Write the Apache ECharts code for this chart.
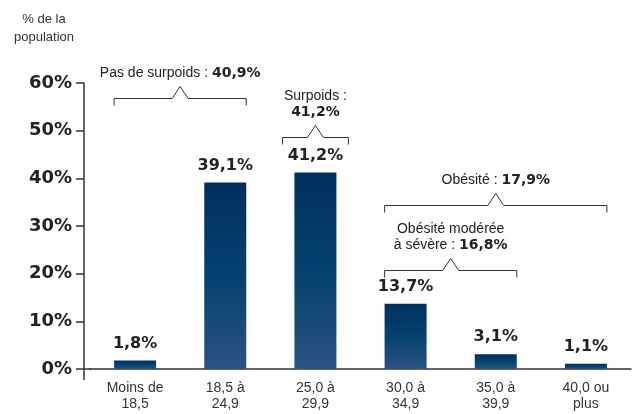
<!DOCTYPE html>
<html>
<head>
<meta charset="utf-8">
<script src="https://cdn.jsdelivr.net/npm/echarts@6/dist/echarts.min.js"></script>
<style>
  html, body { margin: 0; padding: 0; background: #fff; }
  #chart { width: 637px; height: 414px; }
</style>
</head>
<body>
<div id="chart"></div>
<script>
// categories (IMC) and share of population, in %
const categories = ['Moins de\n18,5', '18,5 à\n24,9', '25,0 à\n29,9', '30,0 à\n34,9', '35,0 à\n39,9', '40,0 ou\nplus'];
const shares = [1.8, 39.1, 41.2, 13.7, 3.1, 1.1];

// grouped brackets above the bars
const groupText = ['Pas de surpoids : ', 'Surpoids :\n', 'Obésité : ', 'Obésité modérée\nà sévère : '];
const groupValue = ['40,9%', '41,2%', '17,9%', '16,8%'];
const groupFrom = [0, 2, 3, 3];
const groupTo = [1, 2, 5, 4];
const groupLevel = [56.8, 48.6, 34.4, 20.8];

const numFont = '"DejaVu Sans", sans-serif';
const txtFont = '"Liberation Sans", Arial, sans-serif';
const fmt = v => v.toFixed(1).replace('.', ',') + '%';

window.addEventListener('load', function () {
    let chart = echarts.init(document.getElementById('chart'));
    const barW = 42;

    let option = {
        animation: false,
        grid: { left: 90, right: 6, top: 83, bottom: 45 },
        graphic: [],
        xAxis: {
            type: 'category',
            data: categories,
            axisLine: { lineStyle: { color: '#333', width: 1.5 } },
            axisTick: { show: false },
            axisLabel: {
                interval: 0, margin: 11, color: '#333',
                fontSize: 14, lineHeight: 16, fontFamily: txtFont
            }
        },
        yAxis: {
            type: 'value',
            min: 0, max: 60, interval: 10,
            offset: 6,
            axisLine: { show: true, lineStyle: { color: '#333', width: 1.5 } },
            axisTick: { show: true, length: 8, lineStyle: { color: '#333', width: 1.5 } },
            splitLine: { show: false },
            axisLabel: {
                formatter: '{value}%', margin: 12, color: '#222',
                fontSize: 18, fontWeight: 'bold', fontFamily: numFont
            }
        },
        series: [{
            type: 'bar',
            data: shares,
            barWidth: barW,
            itemStyle: {
                color: new echarts.graphic.LinearGradient(0, 0, 0, 1, [
                    { offset: 0, color: '#002f5f' },
                    { offset: 0.5, color: '#04426f' },
                    { offset: 1, color: '#2a5383' }
                ])
            },
            label: {
                show: true, position: 'top', distance: 9,
                formatter: p => fmt(p.value),
                color: '#222', fontSize: 16, fontWeight: 'bold', fontFamily: numFont
            }
        }]
    };
    chart.setOption(option);

    const px = (i, v) => chart.convertToPixel({ xAxisIndex: 0, yAxisIndex: 0 }, [i, v]);
    const line = (x1, y1, x2, y2, w) => ({
        type: 'line', silent: true,
        shape: { x1: x1, y1: y1, x2: x2, y2: y2 },
        style: { stroke: '#333', lineWidth: w || 1 }
    });

    let g = [];
    // axis line extensions
    const o = px(0, 0);
    g.push(line(84, o[1], 91, o[1], 1.5));
    g.push(line(84, o[1], 84, o[1] + 11, 1.5));

    // y axis title
    g.push({
        type: 'text', silent: true, x: 44, y: 10,
        style: {
            text: '% de la\npopulation', align: 'center', verticalAlign: 'top',
            fill: '#333', fontSize: 13, lineHeight: 18, fontFamily: txtFont
        }
    });

    for (let k = 0; k < groupText.length; k++) {
        const single = groupFrom[k] === groupTo[k];
        const pad = single ? 12 : 0;
        const a = px(groupFrom[k], groupLevel[k]);
        const b = px(groupTo[k], groupLevel[k]);
        const x1 = a[0] - barW / 2 - pad;
        const x2 = b[0] + barW / 2 + pad;
        const y = Math.round(a[1]) + 0.5;
        const mx = (x1 + x2) / 2;
        g.push({
            type: 'polyline', silent: true,
            shape: { points: [[x1, y + 7], [x1, y], [mx - 8, y], [mx, y - 12], [mx + 8, y], [x2, y], [x2, y + 7]] },
            style: { stroke: '#333', lineWidth: 1, fill: null }
        });
        g.push({
            type: 'text', silent: true,
            x: mx, y: y - 17,
            style: {
                text: groupText[k] + '{b|' + groupValue[k] + '}',
                align: 'center', verticalAlign: 'bottom',
                fill: '#222', fontSize: 14, lineHeight: 16, fontFamily: txtFont,
                rich: { b: { fontSize: 14, fontWeight: 'bold', fontFamily: numFont, fill: '#222', lineHeight: 16 } }
            }
        });
    }

    chart.setOption({ graphic: g });
}, false);
</script>
</body>
</html>
